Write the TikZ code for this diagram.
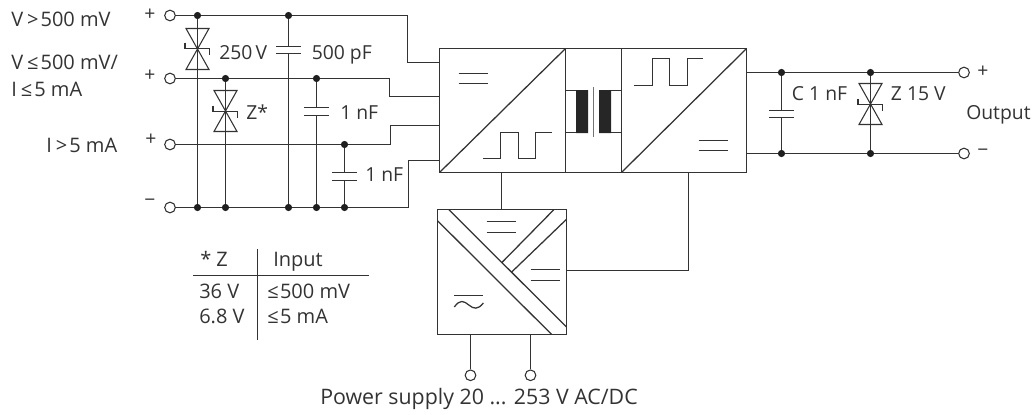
\documentclass[tikz,border=0pt]{standalone}
\usepackage{fontspec}
\setmainfont{Open Sans}
\definecolor{ink}{HTML}{333333}
\tikzset{
  wire/.style={draw=ink,line width=0.95pt,line join=miter},
  thin wire/.style={draw=ink,line width=0.8pt},
  term/.style={circle,draw=ink,fill=white,line width=0.8pt,minimum size=8pt,inner sep=0pt},
  dot/.style={circle,fill=ink!60!black,minimum size=5.4pt,inner sep=0pt},
  lab/.style={text=ink,font=\fontsize{14.5}{17}\selectfont,inner sep=0pt},
  labl/.style={lab,anchor=base west},
  labw/.style={labl,font=\fontsize{15}{17}\selectfont},
}
\newcommand{\zenerdiode}[4]{% x, top, mid, bottom
  \draw[thin wire] (#1-11.5,#2) -- (#1+11.5,#2) -- (#1-11.5,#4) -- (#1+11.5,#4) -- cycle;
  \draw[thin wire] (#1-12.5,#3-6) -- (#1-12.5,#3) -- (#1+12,#3) -- (#1+12,#3+6.5);
}
\newcommand{\capacitor}[3]{% x, y1, y2
  \fill[white] (#1-12.3,#2) rectangle (#1+12.3,#3);
  \draw[wire] (#1-12.3,#2) -- (#1+12.3,#2) (#1-12.3,#3) -- (#1+12.3,#3);
}
\newcommand{\eqsign}[3]{% x, y1, y2
  \draw[wire] (#1,#2) -- (#1+29,#2) (#1,#3) -- (#1+29,#3);
}
\begin{document}
\begin{tikzpicture}[x=0.75pt,y=-0.75pt]
\useasboundingbox (0,0) rectangle (1034,414);
% coordinates
\coordinate (TL) at (439.5,48.5);
\coordinate (BL) at (439.5,172.5);
\coordinate (TM1) at (565.5,48.5);
\coordinate (BM1) at (565.5,172.5);
\coordinate (TM2) at (621.5,48.5);
\coordinate (BM2) at (621.5,172.5);
\coordinate (TR) at (746.5,48.5);
\coordinate (BR) at (746.5,172.5);
% verticals
\node[dot] (a1) at (197.5,15.5) {};
\node[dot] (a2) at (288.5,15.5) {};
\node[dot] (b1) at (225.5,78.5) {};
\node[dot] (b2) at (316.5,78.5) {};
\node[dot] (c1) at (344.5,144.5) {};
\node[dot] (d1) at (197.5,207.5) {};
\node[dot] (d2) at (225.5,207.5) {};
\node[dot] (d3) at (288.5,207.5) {};
\node[dot] (d4) at (316.5,207.5) {};
\node[dot] (d5) at (344.5,207.5) {};
\node[term] (t1) at (170,15.5) {};
\node[term] (t2) at (170,78.5) {};
\node[term] (t3) at (170,144.5) {};
\node[term] (t4) at (170,207.5) {};
\draw[wire] (t1) -- (a1) -- (a2) -| (407.5,62.5) -- (439.5,62.5);
\draw[wire] (t2) -- (b1) -- (b2) -| (389.5,96.5) -- (439.5,96.5);
\draw[wire] (t3) -- (c1) -| (390.5,125.5) -- (439.5,125.5);
\draw[wire] (t4) -- (d1) -- (d2) -- (d3) -- (d4) -- (d5) -| (408.5,160.5) -- (439.5,160.5);
\draw[wire] (a1) -- (d1);
\draw[wire] (b1) -- (d2);
\draw[wire] (a2) -- (d3);
\draw[wire] (b2) -- (d4);
\draw[wire] (c1) -- (d5);
\zenerdiode{197.5}{28.5}{48.5}{69.5}
\zenerdiode{225.5}{90.5}{111.5}{131.5}
\capacitor{288.5}{46.5}{53.5}
\capacitor{316.5}{107.5}{115.5}
\capacitor{344.5}{172.5}{180.5}
% main converter
\draw[wire] (TL) rectangle (BR);
\draw[wire] (TM1) -- (BM1) (TM2) -- (BM2);
\draw[wire] (BL) -- (TM1) (BM2) -- (TR);
\eqsign{458.7}{73.5}{83.5}
\eqsign{698.7}{140.5}{150.5}
\draw[wire] (483,158.5) -| (500.5,132.5) -| (518.5,158.5) -| (535.5,132.5) -- (551.7,132.5);
\draw[wire] (634.3,85.5) -| (652.5,58.5) -| (669.5,85.5) -| (687.5,58.5) -- (703,58.5);
% transformer
\draw[wire] (565.5,90.5) -- (576,90.5) (565.5,132.5) -- (576,132.5) (611,90.5) -- (621.5,90.5) (611,132.5) -- (621.5,132.5);
\fill[black!85] (576,90) rectangle (588,133) (599,90) rectangle (611,133);
\draw[draw=black!55,line width=1pt] (593.5,87.3) -- (593.5,137.3);
% supply box
\coordinate (STL) at (437.5,209.5);
\coordinate (SBR) at (566.5,334.5);
\draw[wire] (STL) rectangle (SBR);
\draw[wire] (501.5,172.5) -- (501.5,209.5);
\draw[wire] (566.5,270.5) -| (688.5,172.5);
\draw[wire] (448.7,209.5) -- (566.5,327);
\draw[wire] (437.5,220.7) -- (551.7,334.5);
\draw[wire] (554,209.5) -- (501.7,262.7);
\draw[wire] (566.5,219.3) -- (511.7,272);
\eqsign{486.7}{221.5}{232.5}
\eqsign{530.7}{269.5}{280.5}
\draw[wire] (454.3,295.5) -- (483.3,295.5);
\draw[wire] (454.3,307) .. controls (460,299) and (464,301) .. (468.8,305) .. controls (473.6,309) and (478,310) .. (483.3,303);
\node[term] (p1) at (470.5,375.3) {};
\node[term] (p2) at (530.5,375.3) {};
\draw[wire] (470.5,334.5) -- (p1);
\draw[wire] (530.5,334.5) -- (p2);
% output
\node[dot] (o1) at (781.5,72.5) {};
\node[dot] (o2) at (870.5,72.5) {};
\node[dot] (o3) at (781.5,153.5) {};
\node[dot] (o4) at (870.5,153.5) {};
\node[term] (ot) at (964,72.5) {};
\node[term] (ob) at (964,153.5) {};
\draw[wire] (746.5,72.5) -- (o1) -- (o2) -- (ot);
\draw[wire] (746.5,153.5) -- (o3) -- (o4) -- (ob);
\draw[wire] (o1) -- (o3);
\draw[wire] (o2) -- (o4);
\capacitor{781.5}{110.5}{117.5}
\zenerdiode{870.5}{83.5}{104.5}{124.5}
% table
\draw[thin wire] (193.3,275.5) -- (369.3,275.5);
\draw[thin wire] (257.5,249) -- (257.5,340.3);
% labels
\node[labw] at (11,26.5) {V\hspace{3pt}>\hspace{1.5pt}500 mV};
\node[labw] at (11,69.5) {V\hspace{3pt}≤\hspace{1.5pt}500 mV/};
\node[labw] at (11,96.5) {I\hspace{3pt}≤\hspace{1.5pt}5 mA};
\node[labw] at (46,152.5) {I\hspace{3pt}>\hspace{1.5pt}5 mA};
\node[lab] at (150,15) {+};
\node[lab] at (150,76) {+};
\node[lab] at (151,140) {+};
\node[lab] at (150,202.5) {−};
\node[labl] at (219,59) {250\,V};
\node[labl] at (311.5,59) {500 pF};
\node[labl] at (246,119.5) {Z*};
\node[labl] at (340,119.5) {1 nF};
\node[labl] at (365,181.5) {1 nF};
\node[labl] at (791.7,100.5) {C 1 nF};
\node[labl] at (890.7,100.5) {Z 15 V};
\node[labl] at (966,119.5) {Output};
\node[lab] at (983,71.7) {+};
\node[lab] at (983,152.7) {−};
\node[labw] at (200,266.5) {* Z};
\node[labw] at (273,266.5) {Input};
\node[labw] at (199,298.5) {36 V};
\node[labw] at (267,298.5) {≤\hspace{1pt}500 mV};
\node[labw] at (199,323.5) {6.8 V};
\node[labw] at (267,323.5) {≤\hspace{1pt}5 mA};
\node[lab,anchor=base,font=\fontsize{16}{18}\selectfont] at (479,404.5) {Power supply 20 ... 253 V AC/DC};
\end{tikzpicture}
\end{document}
